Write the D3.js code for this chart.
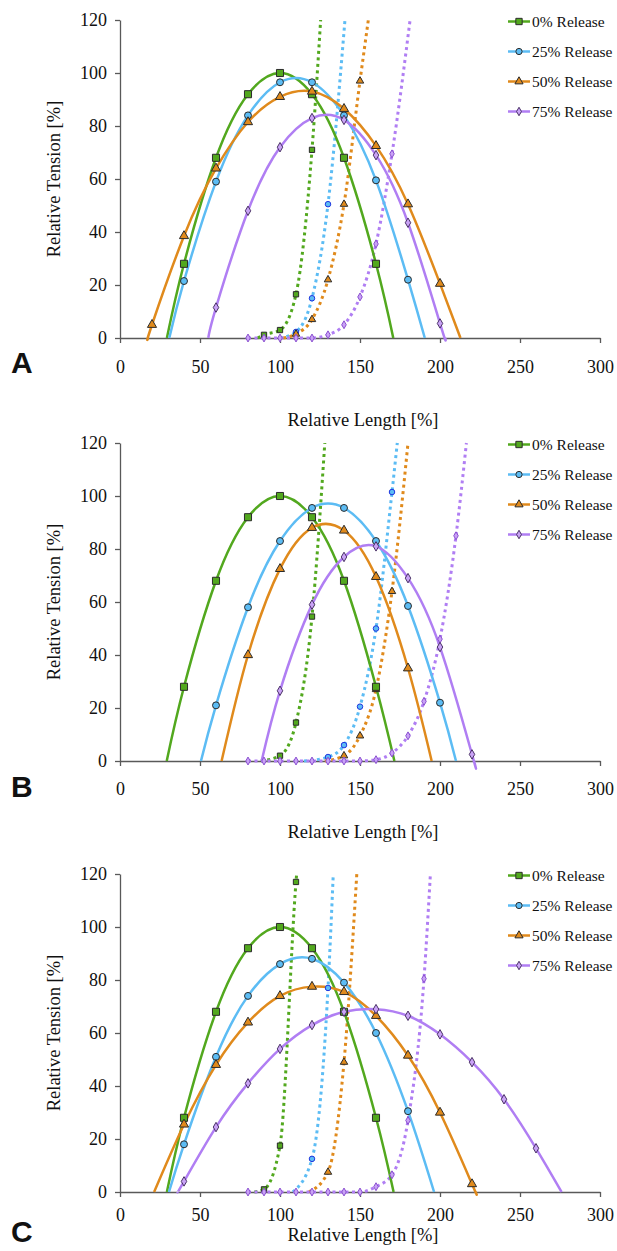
<!DOCTYPE html>
<html>
<head>
<title>Relative Tension vs Relative Length</title>
<script src="https://d3js.org/d3.v7.min.js"></script>
<style>
body { margin: 0; background: #fff; }
text { font-family: "Liberation Serif", "DejaVu Serif", "Times New Roman", serif; fill: #111; }
.axis path, .axis line { stroke: #595959; stroke-width: 1.3; }
.axis text { font-size: 18px; }
.letter { font-family: "Liberation Sans", Arial, sans-serif; font-weight: bold; font-size: 30px; }
</style>
</head>
<body>
<svg width=617 height=1251></svg>
<script>
// series + ticks
var releases = ["0% Release", "25% Release", "50% Release", "75% Release"];
var releaseColors = ["#52a81e", "#5cbcf4", "#e08a1c", "#b07ef3"];
var lengthTicks = [0, 50, 100, 150, 200, 250, 300];
var tensionTicks = [0, 20, 40, 60, 80, 100, 120];

// Panel A - active tension markers [length, tension]
var activeA = [
  [[40,28],[60,68],[80,92],[100,100],[120,92],[140,68],[160,28]],
  [[40,21.5],[60,59],[80,84],[100,96.5],[120,96.5],[140,84],[160,59.5],[180,22]],
  [[20,5],[40,38.5],[60,64],[80,81.5],[100,91],[120,93],[140,86.5],[160,72.5],[180,50.5],[200,20.5]],
  [[60,11.5],[80,48],[100,72],[120,83],[140,82.3],[160,69],[180,43.5],[200,5.5]]
];
// where the fitted curves hit zero (left, right)
var activeEndsA = [[29.3,170.8],[30.8,190.5],[17.7,212.8],[55.2,203.3]];
// passive tension markers
var passiveA = [
  [[90,1.2],[100,3],[110,16.5],[120,71]],
  [[110,2.3],[120,15],[130,50.5]],
  [[110,1.5],[120,7],[130,22],[140,50.5],[150,97]],
  [[80,0],[90,0],[100,0],[110,0],[120,0],[130,1.2],[140,5],[150,15.5],[160,35.5],[170,69.5]]
];
// where the passive curves leave zero / reach 120
var passiveEndsA = [[86,125.4],[100,140.6],[102,155.2],[null,181.3]];

// Panel B
var activeB = [
  [[40,28],[60,68],[80,92],[100,100],[120,92],[140,68],[160,28]],
  [[60,21],[80,58],[100,83],[120,95.5],[140,95.5],[160,83],[180,58.5],[200,22]],
  [[80,40],[100,72.5],[120,88],[140,87],[160,69.5],[180,35]],
  [[100,26.5],[120,59],[140,77],[160,81],[180,69],[200,43],[220,2.5]]
];
var activeEndsB = [[29.2,171.5],[50.6,210],[63.5,194.8],[88.5,221.3]];
var passiveB = [
  [[100,2],[110,14.5],[120,54.5]],
  [[130,1.5],[140,6],[150,20.5],[160,50],[170,101.5]],
  [[140,2],[150,9.5],[160,27],[170,64]],
  [[80,0],[90,0],[100,0],[110,0],[120,0],[130,0],[140,0],[150,0],[160,0.5],[170,3],[180,9.5],[190,22.5],[200,46],[210,85]]
];
var passiveEndsB = [[88,128],[115,173.3],[128,180],[null,216.5]];

// Panel C
var activeC = [
  [[40,28],[60,68],[80,92],[100,100],[120,92],[140,68],[160,28]],
  [[40,18],[60,51],[80,74],[100,86],[120,88],[140,79],[160,60],[180,30.5]],
  [[40,25.5],[60,48],[80,64],[100,74],[120,77.5],[140,75.5],[160,66.5],[180,51.5],[200,30],[220,3]],
  [[40,4],[60,24.5],[80,41],[100,54],[120,63],[140,68],[160,69],[180,66.5],[200,59.5],[220,49],[240,35],[260,16.5]]
];
var activeEndsC = [[29.3,171],[30.6,196.3],[21.3,222.3],[36,276]];
var passiveC = [
  [[90,1],[100,17.5],[110,117]],
  [[120,12.5],[130,77]],
  [[130,7.5],[140,49]],
  [[80,0],[90,0],[100,0],[110,0],[120,0],[130,0],[140,0],[150,0],[160,2],[170,6.5],[180,27],[190,80.5]]
];
var passiveEndsC = [[84,110.4],[108,133.3],[118,148],[null,194]];

var svg = d3.select("svg");
var symbols = [d3.symbolSquare, d3.symbolCircle, d3.symbolTriangle, d3.symbolDiamond];
var activeSizes = [50, 38, 36, 26];
var passiveSizes = [28, 24, 24, 18];
var activeStroke = ["#2b2b2b", "#2b2b2b", "#2b2b2b", "#4a3266"];
var passiveStroke = ["#2b2b2b", "#1f35e0", "#2b2b2b", "#8a4fd0"];
var markerFill = ["#52a81e", "#5cbcf4", "#e08a1c", "#c9a2f6"];

function drawPanel(top, active, activeEnds, passive, passiveEnds, letter, letterY, titleY, tickPad) {
  var x = d3.scaleLinear().domain([0, 300]).range([120, 600]);
  var y = d3.scaleLinear().domain([0, 120]).range([top + 318, top]);

  var g = svg.append("g");

  // axes
  g.append("g").attr("class", "axis")
    .attr("transform", "translate(0," + y(0) + ")")
    .call(d3.axisBottom(x).tickValues(lengthTicks).tickSize(5).tickSizeOuter(0).tickPadding(tickPad));
  g.append("g").attr("class", "axis")
    .attr("transform", "translate(" + x(0) + ",0)")
    .call(d3.axisLeft(y).tickValues(tensionTicks).tickSize(5).tickSizeOuter(0).tickPadding(8));

  g.selectAll(".axis").attr("font-family", null).attr("font-size", null);
  g.selectAll(".axis text").attr("fill", "#111");

  g.append("text")
    .attr("transform", "translate(60," + (top + 159) + ")rotate(-90)")
    .attr("text-anchor", "middle")
    .style("font-size", "18.5px")
    .text("Relative Tension [%]");
  g.append("text")
    .attr("x", 363).attr("y", titleY)
    .attr("text-anchor", "middle")
    .style("font-size", "18.5px")
    .text("Relative Length [%]");
  g.append("text").attr("class", "letter")
    .attr("x", 11).attr("y", letterY)
    .text(letter);

  var solid = d3.line().x(function(d){return x(d[0]);}).y(function(d){return y(d[1]);}).curve(d3.curveNatural);
  var dotted = d3.line().x(function(d){return x(d[0]);}).y(function(d){return y(d[1]);}).curve(d3.curveMonotoneX);

  // passive (dotted) curves
  passive.forEach(function(pts, i) {
    var ends = passiveEnds[i];
    var line = pts.slice();
    if (ends[0] !== null) line.unshift([ends[0], 0]);
    line.push([ends[1], 120]);
    g.append("path").attr("d", dotted(line))
      .attr("fill", "none")
      .attr("stroke", releaseColors[i])
      .attr("stroke-width", 3)
      .attr("stroke-dasharray", "3,3.5");
  });

  // active (solid) curves
  active.forEach(function(pts, i) {
    var line = [[activeEnds[i][0], 0]].concat(pts).concat([[activeEnds[i][1], 0]]);
    g.append("path").attr("d", solid(line))
      .attr("fill", "none")
      .attr("stroke", releaseColors[i])
      .attr("stroke-width", 2.5);
  });

  // markers
  passive.forEach(function(pts, i) {
    g.append("g").selectAll("path").data(pts).enter().append("path")
      .attr("d", d3.symbol().type(symbols[i]).size(passiveSizes[i]))
      .attr("transform", function(d){return "translate(" + x(d[0]) + "," + y(d[1]) + ")";})
      .attr("fill", markerFill[i])
      .attr("stroke", passiveStroke[i])
      .attr("stroke-width", 1);
  });
  active.forEach(function(pts, i) {
    g.append("g").selectAll("path").data(pts).enter().append("path")
      .attr("d", d3.symbol().type(symbols[i]).size(activeSizes[i]))
      .attr("transform", function(d){return "translate(" + x(d[0]) + "," + y(d[1]) + ")";})
      .attr("fill", markerFill[i])
      .attr("stroke", activeStroke[i])
      .attr("stroke-width", 1);
  });

  // legend
  var leg = g.append("g").selectAll("g").data(releases).enter().append("g")
    .attr("transform", function(d, i){return "translate(0," + (top + 1.5 + i * 30) + ")";});
  leg.append("line")
    .attr("x1", 508).attr("x2", 530).attr("y1", 0).attr("y2", 0)
    .attr("stroke", function(d, i){return releaseColors[i];})
    .attr("stroke-width", 2.5);
  leg.append("path")
    .attr("d", function(d, i){return d3.symbol().type(symbols[i]).size(activeSizes[i] * 0.8)();})
    .attr("transform", "translate(519,0)")
    .attr("fill", function(d, i){return markerFill[i];})
    .attr("stroke", function(d, i){return activeStroke[i];});
  leg.append("text")
    .attr("x", 532).attr("y", 0).attr("dy", "0.35em")
    .style("font-size", "15.5px")
    .text(function(d){return d;});
}

drawPanel(20, activeA, activeEndsA, passiveA, passiveEndsA, "A", 373, 426, 17);
drawPanel(443, activeB, activeEndsB, passiveB, passiveEndsB, "B", 797, 838, 16);
drawPanel(874, activeC, activeEndsC, passiveC, passiveEndsC, "C", 1242, 1241, 11);
</script>
</body>
</html>
